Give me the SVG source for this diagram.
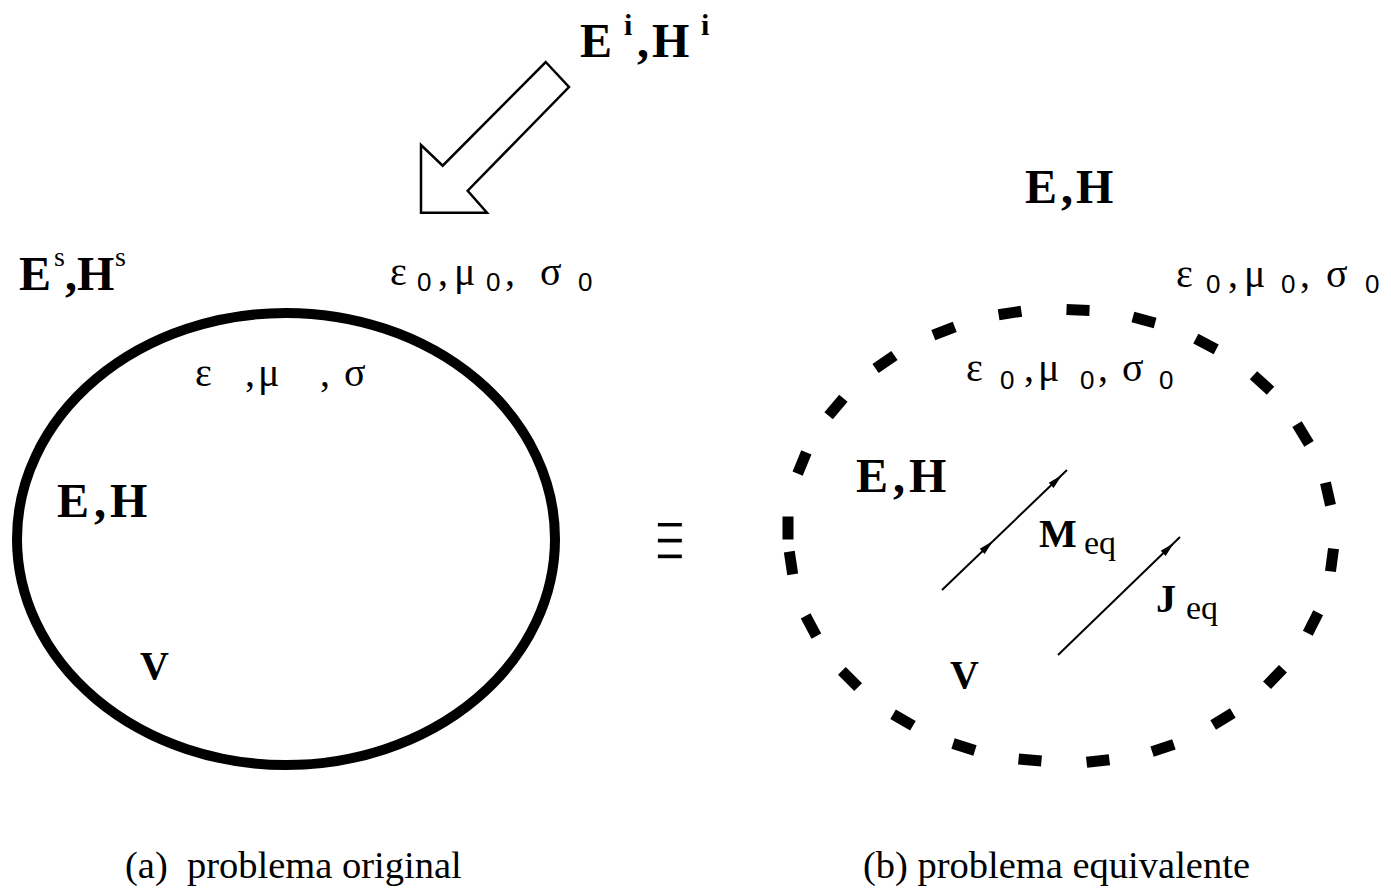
<svg xmlns="http://www.w3.org/2000/svg" xmlns:xlink="http://www.w3.org/1999/xlink" width="1391" height="895" viewBox="0 0 1391 895">
<style>
.b{font-family:"Liberation Serif",serif;font-weight:bold;fill:#000}
.r{font-family:"Liberation Serif",serif;fill:#000}
.g{font-family:"Liberation Serif",serif;fill:#000;font-size:40px}
.z{font-family:"Liberation Sans",sans-serif;fill:#000;font-size:26px}
</style>
<defs>
<rect id="dash" x="-11.5" y="-5.5" width="23" height="11" fill="#000"/>
<path id="ah" d="M0,0 L-15,-3.5 L-15,3.5 Z" fill="#000"/>
</defs>
<rect width="1391" height="895" fill="#fff"/>

<g id="incident-arrow">
<polygon points="545.7,62 569,87 467.7,190.7 487,212.7 421,212.7 421,145 442.7,165.7" fill="#fff" stroke="#000" stroke-width="2.5" stroke-linejoin="miter"/>
</g>

<g id="label-EiHi">
<text class="b" x="580" y="57" font-size="48">E</text>
<text class="b" x="624" y="35" font-size="30">i</text>
<text class="b" x="637" y="57" font-size="48">,</text>
<text class="b" x="652" y="57" font-size="48">H</text>
<text class="b" x="701" y="35" font-size="30">i</text>
</g>

<g id="label-EsHs">
<text class="b" x="19" y="290" font-size="48">E</text>
<text class="r" x="54" y="266" font-size="28">s</text>
<text class="b" x="65" y="290" font-size="48">,</text>
<text class="b" x="77" y="290" font-size="48">H</text>
<text class="r" x="115" y="266" font-size="28">s</text>
</g>

<g id="medium-outer-a">
<text class="g" x="390" y="285">ε</text><text class="z" x="417" y="291">0</text>
<text class="g" x="438" y="285">,</text>
<text class="g" x="454" y="285">μ</text><text class="z" x="486" y="291">0</text>
<text class="g" x="505" y="285">,</text>
<text class="g" x="540" y="285">σ</text><text class="z" x="578" y="291">0</text>
</g>

<g id="body-a">
<ellipse cx="286" cy="539" rx="269" ry="226" fill="none" stroke="#000" stroke-width="10"/>
</g>

<g id="medium-inner-a">
<text class="g" x="195" y="386">ε</text>
<text class="g" x="245" y="386">,</text>
<text class="g" x="258" y="386">μ</text>
<text class="g" x="320" y="386">,</text>
<text class="g" x="344" y="386">σ</text>
</g>

<g id="label-EH-a">
<text class="b" x="57" y="517" font-size="48">E</text>
<text class="b" x="94" y="517" font-size="48">,</text>
<text class="b" x="110" y="517" font-size="48">H</text>
</g>

<g id="label-V-a">
<text class="b" x="140" y="679" font-size="40">V</text>
</g>

<g id="equiv">
<text transform="translate(670,541) scale(1.12,2.28)" x="0" y="16" font-family="Liberation Serif, serif" font-size="48" text-anchor="middle" fill="#000" stroke="#fff" stroke-width="0.8">≡</text>
</g>

<g id="label-EH-b-top">
<text class="b" x="1025" y="203" font-size="48">E</text>
<text class="b" x="1061" y="203" font-size="48">,</text>
<text class="b" x="1076" y="203" font-size="48">H</text>
</g>

<g id="medium-outer-b">
<text class="g" x="1176" y="287">ε</text><text class="z" x="1206" y="293">0</text>
<text class="g" x="1228" y="287">,</text>
<text class="g" x="1244" y="287">μ</text><text class="z" x="1281" y="293">0</text>
<text class="g" x="1300" y="287">,</text>
<text class="g" x="1326" y="287">σ</text><text class="z" x="1365" y="293">0</text>
</g>

<g id="surface-b">
<use xlink:href="#dash" transform="translate(1010,313) rotate(-8.8)"/>
<use xlink:href="#dash" transform="translate(1078,310) rotate(2)"/>
<use xlink:href="#dash" transform="translate(1144,320) rotate(14.9)"/>
<use xlink:href="#dash" transform="translate(1206,344) rotate(27.5)"/>
<use xlink:href="#dash" transform="translate(1262,383) rotate(42.1)"/>
<use xlink:href="#dash" transform="translate(1303,434) rotate(58.6)"/>
<use xlink:href="#dash" transform="translate(1328,494) rotate(77.2)"/>
<use xlink:href="#dash" transform="translate(1332,560) rotate(97.5)"/>
<use xlink:href="#dash" transform="translate(1313,623) rotate(116.8)"/>
<use xlink:href="#dash" transform="translate(1275,677) rotate(133.9)"/>
<use xlink:href="#dash" transform="translate(1223,719) rotate(148.8)"/>
<use xlink:href="#dash" transform="translate(1163,748) rotate(161.7)"/>
<use xlink:href="#dash" transform="translate(1098,761) rotate(173.5)"/>
<use xlink:href="#dash" transform="translate(1030,760) rotate(5.3)"/>
<use xlink:href="#dash" transform="translate(964,747) rotate(17.4)"/>
<use xlink:href="#dash" transform="translate(903,720) rotate(30.3)"/>
<use xlink:href="#dash" transform="translate(850,679) rotate(45.1)"/>
<use xlink:href="#dash" transform="translate(811,626) rotate(62.1)"/>
<use xlink:href="#dash" transform="translate(791,563) rotate(81.5)"/>
<use xlink:href="#dash" transform="translate(788,528) rotate(90)"/>
<use xlink:href="#dash" transform="translate(802,463) rotate(-67.7)"/>
<use xlink:href="#dash" transform="translate(836,407) rotate(-50.1)"/>
<use xlink:href="#dash" transform="translate(885,362) rotate(-34.7)"/>
<use xlink:href="#dash" transform="translate(944,331) rotate(-21.3)"/>
</g>

<g id="medium-inner-b">
<text class="g" x="966" y="381">ε</text><text class="z" x="1000" y="389">0</text>
<text class="g" x="1024" y="381">,</text>
<text class="g" x="1038" y="381">μ</text><text class="z" x="1080" y="389">0</text>
<text class="g" x="1098" y="381">,</text>
<text class="g" x="1122" y="381">σ</text><text class="z" x="1159" y="389">0</text>
</g>

<g id="label-EH-b">
<text class="b" x="856" y="492" font-size="48">E</text>
<text class="b" x="893" y="492" font-size="48">,</text>
<text class="b" x="909" y="492" font-size="48">H</text>
</g>

<g id="label-V-b">
<text class="b" x="950" y="688" font-size="40">V</text>
</g>

<g id="connectors">
<line x1="942" y1="590" x2="1067" y2="470" stroke="#000" stroke-width="2"/>
<use xlink:href="#ah" transform="translate(993,541) rotate(-43.8)"/>
<use xlink:href="#ah" transform="translate(1062,475) rotate(-43.8)"/>
<line x1="1058" y1="655" x2="1180" y2="537" stroke="#000" stroke-width="2"/>
<use xlink:href="#ah" transform="translate(1174,543) rotate(-43.8)"/>
</g>

<g id="label-Meq">
<text class="b" x="1039" y="547" font-size="40">M</text>
<text class="r" x="1084" y="554" font-size="34">eq</text>
</g>

<g id="label-Jeq">
<text class="b" x="1156" y="612" font-size="40">J</text>
<text class="r" x="1186" y="619" font-size="34">eq</text>
</g>

<g id="caption-a">
<text class="r" x="125" y="878" font-size="38.5" xml:space="preserve">(a)  problema original</text>
</g>
<g id="caption-b">
<text class="r" x="863" y="878" font-size="38.5">(b) problema equivalente</text>
</g>
</svg>
